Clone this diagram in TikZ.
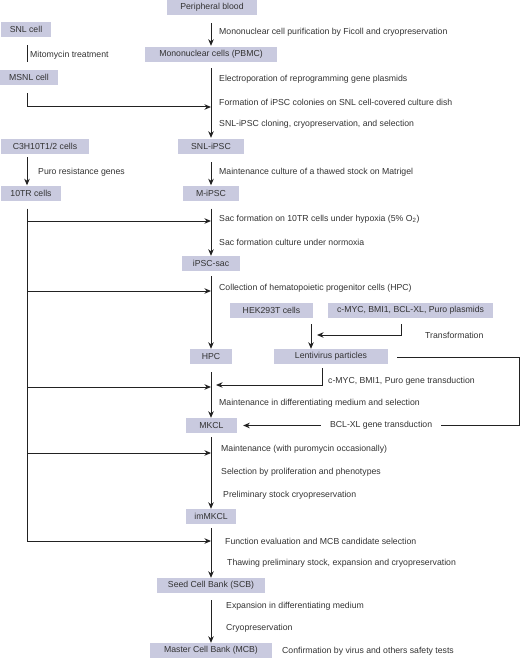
\documentclass[tikz,border=0pt]{standalone}
\usepackage{fontspec}
\setmainfont{Liberation Sans}
\usetikzlibrary{arrows.meta,calc}
\definecolor{boxc}{HTML}{C9CADF}
\definecolor{txtc}{HTML}{333333}
\definecolor{linec}{HTML}{222222}
\tikzset{
  box/.style={fill=boxc, text=txtc, minimum height=15pt, inner sep=0pt, font=\fontsize{8.7}{10}\selectfont},
  lab/.style={anchor=west, text=txtc, inner sep=0pt, font=\fontsize{8.7}{10}\selectfont},
  ln/.style={draw=linec, line width=1pt},
  arr/.style={ln, -{Stealth[length=6.5pt,width=5.5pt,inset=2pt]}},
}
\begin{document}
\begin{tikzpicture}[x=1pt,y=-1pt]
\useasboundingbox (0,0) rectangle (520,658);
% boxes
\node[box, minimum width=90pt] (pb) at (212,7.5) {Peripheral blood};
\node[box, minimum width=50pt] (snl) at (26,29.5) {SNL cell};
\node[box, minimum width=132pt] (pbmc) at (211,54.5) {Mononuclear cells (PBMC)};
\node[box, minimum width=58pt] (msnl) at (29,77.5) {MSNL cell};
\node[box, minimum width=88pt] (c3h) at (45,146.5) {C3H10T1/2 cells};
\node[box, minimum width=66pt] (sipsc) at (211,146.5) {SNL-iPSC};
\node[box, minimum width=60pt] (tentr) at (31,193) {10TR cells};
\node[box, minimum width=56pt] (mipsc) at (211,193) {M-iPSC};
\node[box, minimum width=58pt] (sac) at (211,263.5) {iPSC-sac};
\node[box, minimum width=83pt] (hek) at (271.5,310.5) {HEK293T cells};
\node[box, minimum width=165pt] (plas) at (410.5,310.5) {c-MYC, BMI1, BCL-XL, Puro plasmids};
\node[box, minimum width=42pt] (hpc) at (211,356.5) {HPC};
\node[box, minimum width=114pt] (lenti) at (331,356.5) {Lentivirus particles};
\node[box, minimum width=51pt] (mkcl) at (211.5,425.5) {MKCL};
\node[box, minimum width=50pt] (immkcl) at (211,516.5) {imMKCL};
\node[box, minimum width=108pt] (scb) at (211,585.5) {Seed Cell Bank (SCB)};
\node[box, minimum width=122pt] (mcb) at (211,650.5) {Master Cell Bank (MCB)};

% helper coordinates
\coordinate (lx) at (27,0);
\coordinate (mx) at (211,0);
\coordinate (hx) at (311,0);
\coordinate (m1) at (27,107);
\coordinate (b1) at (27,221);
\coordinate (b2) at (27,291);
\coordinate (b3) at (27,387);
\coordinate (b4) at (27,453);
\coordinate (b5) at (27,541);
\coordinate (p1) at (401,335);
\coordinate (l1) at (322,385);
\coordinate (r0) at (397,357);
\coordinate (r1) at (519,357);
\coordinate (r2) at (519,425.5);

% main column
\draw[arr] ([yshift=-8pt]pb.south -| mx) -- ([yshift=1pt]pbmc.north);
\draw[arr] ([yshift=-6pt]pbmc.south) -- ([yshift=1pt]sipsc.north);
\draw[arr] ([yshift=-8pt]sipsc.south) -- (mipsc.north);
\draw[arr] ([yshift=-8pt]mipsc.south) -- (sac.north);
\draw[arr] ([yshift=-5pt]sac.south) -- (hpc.north);
\draw[arr] ([yshift=-8pt]hpc.south) -- (mkcl.north -| mx);
\draw[arr] ([yshift=-4pt]mkcl.south -| mx) -- (immkcl.north);
\draw[arr] ([yshift=-4pt]immkcl.south) -- (scb.north);
\draw[arr] ([yshift=-7pt]scb.south) -- (mcb.north);

% left column
\draw[ln] ([yshift=-8pt]snl.south -| lx) -- ([yshift=8pt]msnl.north -| lx);
\draw[arr] ([yshift=-8pt]msnl.south -| lx) -- (m1) -- (m1 -| mx);
\draw[arr] ([yshift=-3pt]c3h.south -| lx) -- (tentr.north -| lx);
\draw[ln] ([yshift=-8pt]tentr.south -| lx) -- (b5);
\foreach \b in {b1,b2,b3,b4,b5}{
  \draw[arr] (\b) -- (\b -| mx);
}

% lentivirus part
\draw[arr] ([yshift=-6pt]hek.south -| hx) -- (lenti.north -| hx);
\draw[arr] ([yshift=-6pt]plas.south -| p1) -- (p1) -- ([xshift=6pt]p1 -| hx);
\draw[arr] ([yshift=-4pt]lenti.south -| l1) -- (l1) -- ([xshift=5pt]l1 -| mx);
\draw[arr] (r0) -- (r1) -- (r2) -- node[fill=white, text=txtc, inner xsep=9pt, inner ysep=1pt, font=\fontsize{8.7}{10}\selectfont]{BCL-XL gene transduction} ([xshift=6pt]mkcl.east);

% labels
\node[lab] (t1) at (219,32) {Mononuclear cell purification by Ficoll and cryopreservation};
\node[lab] (t2) at (30,55.5) {Mitomycin treatment};
\node[lab] (t3) at (219,79) {Electroporation of reprogramming gene plasmids};
\node[lab] (t4) at (219,102) {Formation of iPSC colonies on SNL cell-covered culture dish};
\node[lab] (t5) at (219,124.5) {SNL-iPSC cloning, cryopreservation, and selection};
\node[lab] (t6) at (38,172.5) {Puro resistance genes};
\node[lab] (t7) at (219,172) {Maintenance culture of a thawed stock on Matrigel};
\node[lab] (t8) at (219,219) {Sac formation on 10TR cells under hypoxia (5\% O\textsubscript{2})};
\node[lab] (t9) at (219,242) {Sac formation culture under normoxia};
\node[lab] (t10) at (219,288) {Collection of hematopoietic progenitor cells (HPC)};
\node[lab] (t11) at (425,335) {Transformation};
\node[lab] (t12) at (328,381) {c-MYC, BMI1, Puro gene transduction};
\node[lab] (t13) at (219,403) {Maintenance in differentiating medium and selection};
\node[lab] (t14) at (221,449) {Maintenance (with puromycin occasionally)};
\node[lab] (t15) at (221,472) {Selection by proliferation and phenotypes};
\node[lab] (t16) at (223,495) {Preliminary stock cryopreservation};
\node[lab] (t17) at (225,541.5) {Function evaluation and MCB candidate selection};
\node[lab] (t18) at (227,563.5) {Thawing preliminary stock, expansion and cryopreservation};
\node[lab] (t19) at (226,606) {Expansion in differentiating medium};
\node[lab] (t20) at (226,628) {Cryopreservation};
\node[lab] (t21) at (282,651.5) {Confirmation by virus and others safety tests};
\end{tikzpicture}
\end{document}
